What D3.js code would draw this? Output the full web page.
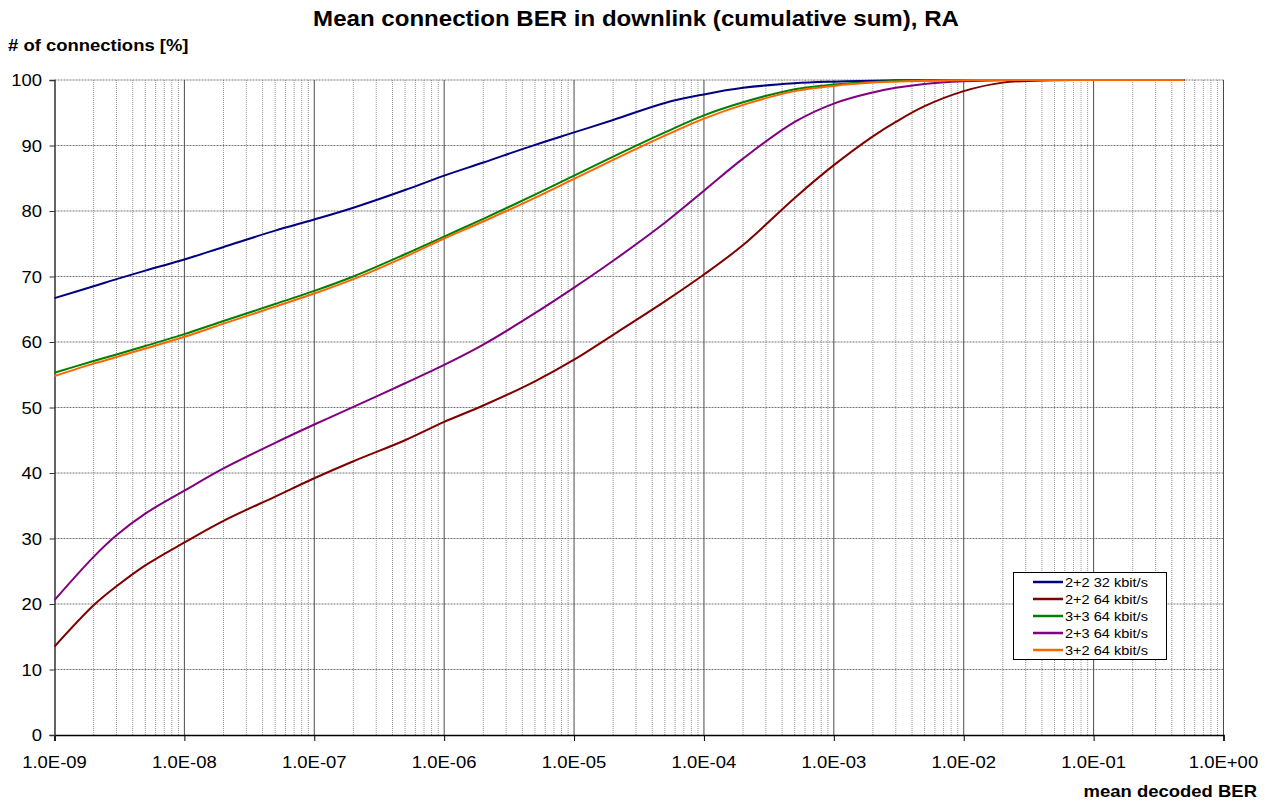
<!DOCTYPE html>
<html>
<head>
<meta charset="utf-8">
<script src="https://cdn.jsdelivr.net/npm/d3@7"></script>
<style>
  html, body { margin: 0; padding: 0; background: #fff; }
  svg { display: block; font-family: Arial, "Liberation Sans", sans-serif; }
</style>
</head>
<body>
<svg id="chart" width="1272" height="812"></svg>
<script>
// ---- data ----
const ber = [1e-9,2e-9,3e-9,5e-9,1e-8,2e-8,5e-8,1e-7,2e-7,5e-7,1e-6,2e-6,5e-6,1e-5,2e-5,5e-5,1e-4,2e-4,5e-4,1e-3,2e-3,3e-3,5e-3,1e-2,2e-2,5e-2,1e-1,2e-1,5e-1];
const s22_32 = [66.7,68.5,69.6,70.9,72.6,74.5,77.0,78.7,80.5,83.2,85.4,87.4,90.1,92.0,93.9,96.5,97.8,98.8,99.5,99.75,99.9,99.95,99.98,100,100,100,100,100,100];
const s22_64 = [13.5,19.8,22.7,25.9,29.4,32.7,36.4,39.2,41.8,45.0,47.8,50.3,54.0,57.3,61.1,66.2,70.3,74.8,82.0,87.0,91.4,93.6,96.0,98.3,99.6,99.97,100,100,100];
const s33_64 = [55.3,57.1,58.1,59.4,61.2,63.2,65.8,67.8,70.0,73.4,76.1,78.8,82.5,85.4,88.3,92.0,94.6,96.6,98.6,99.3,99.7,99.85,99.95,100,100,100,100,100,100];
const s23_64 = [20.6,27.2,30.5,33.8,37.3,40.7,44.6,47.4,50.1,53.7,56.5,59.6,64.4,68.3,72.4,78.2,83.1,88.0,93.6,96.4,98.1,98.8,99.4,99.8,99.97,100,100,100,100];
const s32_64 = [54.8,56.7,57.7,59.0,60.8,62.8,65.4,67.4,69.6,73.0,75.8,78.4,82.0,84.9,87.8,91.5,94.1,96.2,98.3,99.1,99.6,99.75,99.9,99.98,100,100,100,100,100];
const seriesNames = ["2+2 32 kbit/s","2+2 64 kbit/s","3+3 64 kbit/s","2+3 64 kbit/s","3+2 64 kbit/s"];
const seriesValues = [s22_32, s22_64, s33_64, s23_64, s32_64];
const seriesColors = ["#000080","#800000","#008000","#800080","#FF6600"];
const xTickValues = [1e-9,1e-8,1e-7,1e-6,1e-5,1e-4,1e-3,1e-2,1e-1,1e0];
const xTickLabels = ["1.0E-09","1.0E-08","1.0E-07","1.0E-06","1.0E-05","1.0E-04","1.0E-03","1.0E-02","1.0E-01","1.0E+00"];
const yTickValues = [0,10,20,30,40,50,60,70,80,90,100];

// ---- layout ----
const svg = d3.select("#chart");
const L = 54.5, R = 1223.5, T = 80, B = 735;
const SX = 1.12; // horizontal text stretch seen in reference
const x = d3.scaleLog().domain([1e-9, 1]).range([L, R]);
const y = d3.scaleLinear().domain([0, 100]).range([B, T]);

function txt(g, px, py, str, opts) {
  return g.append("text")
    .attr("transform", `translate(${px},${py}) scale(${SX},1)`)
    .attr("font-size", opts.size)
    .attr("font-weight", opts.bold ? "bold" : "normal")
    .attr("text-anchor", opts.anchor || "start")
    .attr("fill", "#000")
    .text(str);
}

// minor vertical gridlines
const minor = [];
for (let e = -9; e < 0; e++) for (let m = 2; m <= 9; m++) minor.push(m * Math.pow(10, e));
svg.append("g").selectAll("line").data(minor).join("line")
  .attr("x1", d => x(d)).attr("x2", d => x(d))
  .attr("y1", T).attr("y2", B)
  .attr("stroke", "#969696").attr("stroke-width", 1)
  .attr("stroke-dasharray", "1,1");

// horizontal gridlines
svg.append("g").selectAll("line").data(yTickValues.filter(d => d > 0)).join("line")
  .attr("x1", L).attr("x2", R)
  .attr("y1", d => y(d)).attr("y2", d => y(d))
  .attr("stroke", "#777").attr("stroke-width", 1)
  .attr("stroke-dasharray", "2,1");

// major vertical gridlines
svg.append("g").selectAll("line").data(xTickValues.slice(1)).join("line")
  .attr("x1", d => x(d)).attr("x2", d => x(d))
  .attr("y1", T).attr("y2", B)
  .attr("stroke", "#4a4a4a").attr("stroke-width", 1);

// axes
const xAxis = d3.axisBottom(x).tickValues(xTickValues).tickSize(6).tickFormat("");
const gx = svg.append("g").attr("transform", `translate(0,${B})`).call(xAxis);
gx.select(".domain").attr("stroke", "#000").attr("stroke-width", 1.5);
gx.selectAll(".tick line").attr("stroke", "#000");
const yAxis = d3.axisLeft(y).tickValues(yTickValues).tickSize(5).tickFormat("");
const gy = svg.append("g").attr("transform", `translate(${L},0)`).call(yAxis);
gy.select(".domain").attr("stroke", "#333").attr("stroke-width", 1.5);
gy.selectAll(".tick line").attr("stroke", "#333");

// tick labels
const lab = svg.append("g");
xTickValues.forEach((v, i) => txt(lab, x(v), 768, xTickLabels[i], {size: 16.5, anchor: "middle"}));
yTickValues.forEach(v => txt(lab, 42, y(v) + 6, String(v), {size: 16.5, anchor: "end"}));

// data lines
const line = d3.line().x(d => x(d[0])).y(d => Math.max(y(d[1]), T)).curve(d3.curveCatmullRom.alpha(0.5));
seriesValues.forEach((vals, i) => {
  svg.append("path")
    .datum(ber.map((b, j) => [b, vals[j]]))
    .attr("fill", "none")
    .attr("stroke", seriesColors[i])
    .attr("stroke-width", 2)
    .attr("stroke-linejoin", "round")
    .attr("d", line);
});

// titles
txt(svg, 636, 26, "Mean connection BER in downlink (cumulative sum), RA", {size: 21.5, bold: true, anchor: "middle"});
txt(svg, 8, 51, "# of connections [%]", {size: 16.5, bold: true});
txt(svg, 1257, 797, "mean decoded BER", {size: 16.5, bold: true, anchor: "end"});

// legend
const lg = svg.append("g");
lg.append("rect").attr("x", 1013.5).attr("y", 572.5).attr("width", 153).attr("height", 87)
  .attr("fill", "#fff").attr("stroke", "#000").attr("stroke-width", 1);
seriesNames.forEach((n, i) => {
  const yy = 582 + i * 17;
  lg.append("line").attr("x1", 1033).attr("x2", 1063).attr("y1", yy).attr("y2", yy)
    .attr("stroke", seriesColors[i]).attr("stroke-width", 2.5);
  txt(lg, 1065, yy + 4.5, n, {size: 13});
});
</script>
</body>
</html>
